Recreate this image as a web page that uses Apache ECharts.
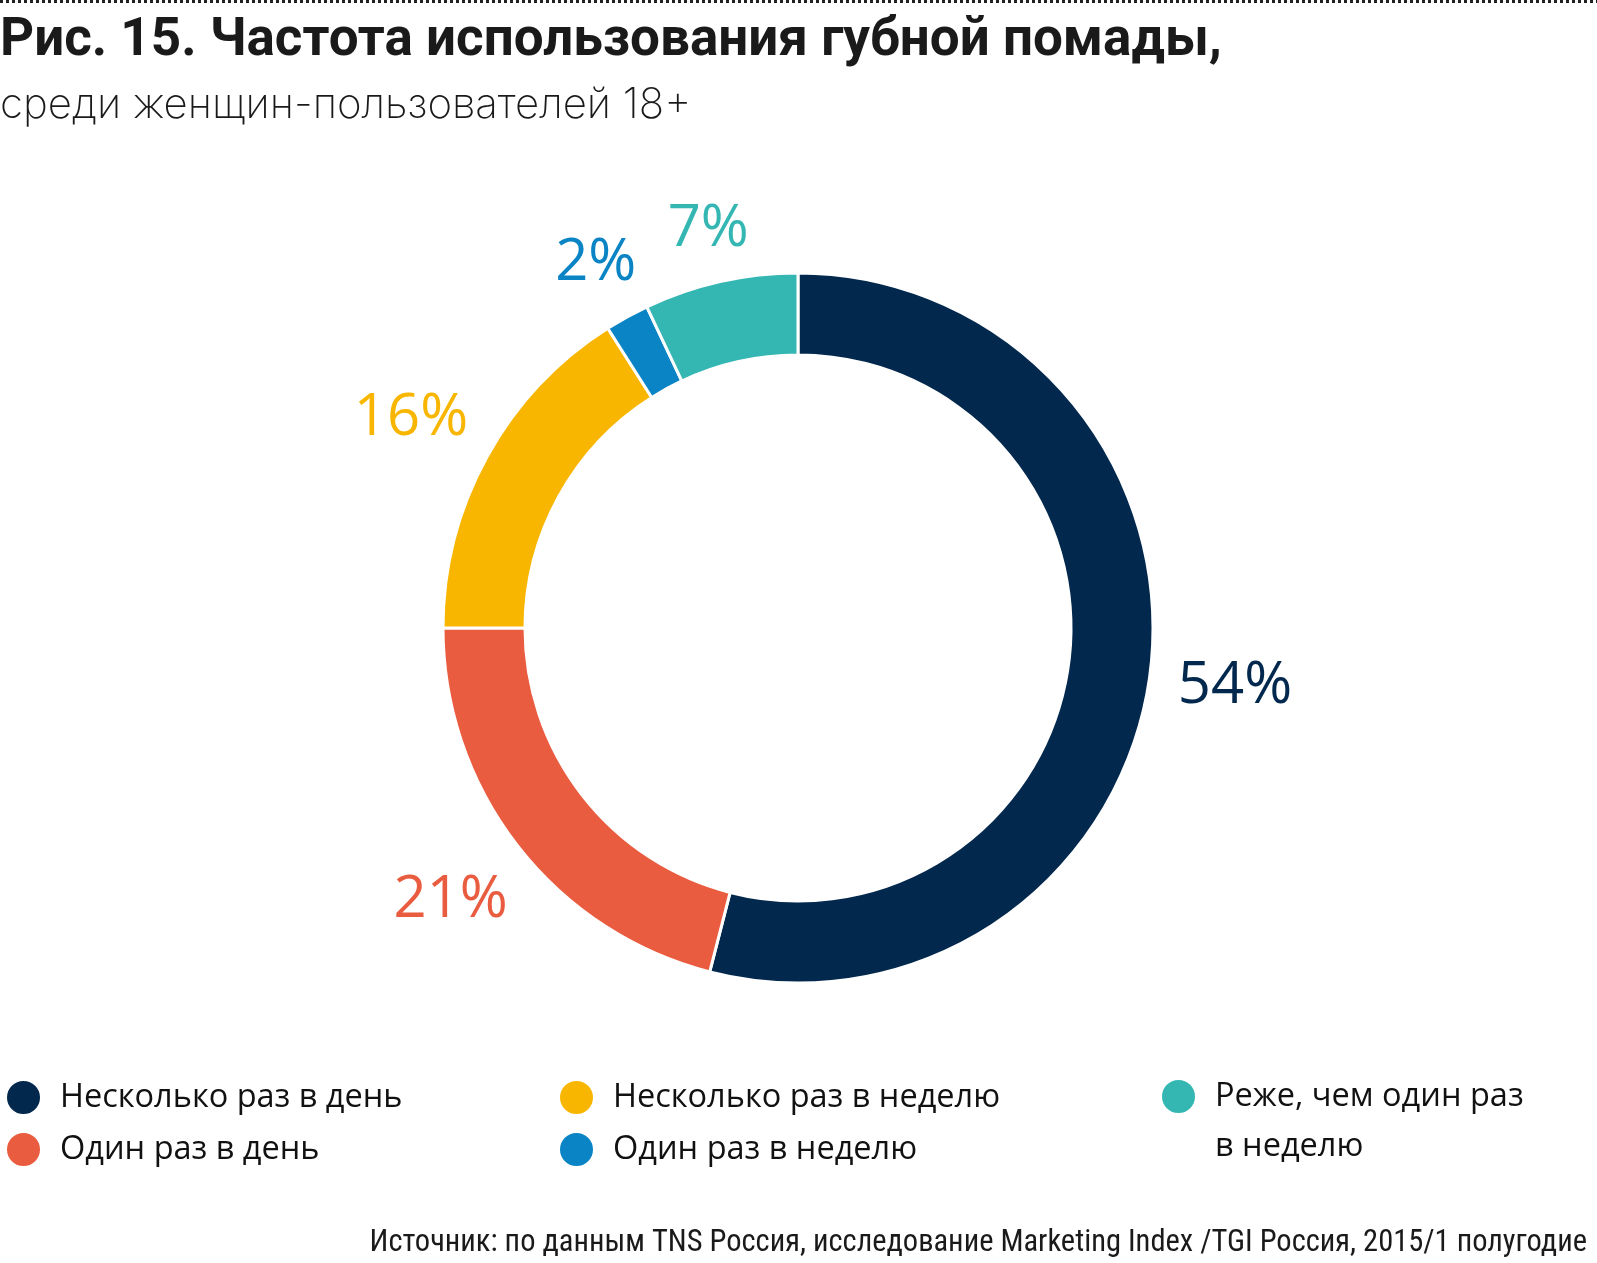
<!DOCTYPE html>
<html>
<head>
<meta charset="utf-8">
<script src="https://cdn.jsdelivr.net/npm/echarts@6/dist/echarts.min.js"></script>
<style>
html,body{margin:0;padding:0;background:#fff;}
#c{width:1597px;height:1263px;}
</style>
</head>
<body>
<div id="c"></div>
<script>
const categories = ['Несколько раз в день', 'Один раз в день', 'Несколько раз в неделю', 'Один раз в неделю', 'Реже, чем один раз в неделю'];
const values = [54, 21, 16, 2, 7];
const colors = ['#03284e', '#ea5c40', '#f8b600', '#0a84c5', '#34b6b3'];
const titleText = 'Рис. 15. Частота использования губной помады,';
const subtitleText = 'среди женщин-пользователей 18+';
const sourceText = 'Источник: по данным TNS Россия, исследование Marketing Index /TGI Россия, 2015/1 полугодие';

const CX = 798, CY = 628, R0 = 273, R1 = 355, GAP = 26, LABEL_FS = 58;

const chart = echarts.init(document.getElementById('c'), null, {renderer: 'canvas'});

const legendText = {fontFamily: 'Open Sans', fontSize: 32.5, color: '#111', padding: [0, 0, 0, 14]};
function mkLegend(names, left, extra) {
  return Object.assign({
    data: names, orient: 'vertical', left: left, top: 1079, padding: 0,
    itemWidth: 35, itemHeight: 35, itemGap: 15, icon: 'circle',
    textStyle: legendText, selectedMode: false
  }, extra || {});
}

chart.setOption({
  animation: false,
  color: colors,
  title: [
    {text: titleText, left: 0, top: 15, padding: 0,
     textStyle: {fontFamily: 'Roboto', fontWeight: 'bold', fontSize: 53, color: '#1a1a1a'}},
    {text: subtitleText, left: 0, top: 84, padding: 0,
     textStyle: {fontFamily: 'Inter', fontWeight: 200, fontSize: 42, color: '#1a1a1a'}},
    {text: sourceText, right: 10, top: 1228, padding: 0,
     textStyle: {fontFamily: 'Liberation Sans Narrow, Roboto Condensed, Roboto', fontWeight: 'normal', fontSize: 30.5, color: '#1a1a1a'}}
  ],
  legend: [
    mkLegend([categories[0], categories[1]], 5),
    mkLegend([categories[2], categories[3]], 558),
    mkLegend([categories[4]], 1160, {
      top: 1079 - 57.5,
      formatter: function (n) { return '\n' + n.replace(' раз в', ' раз\nв'); },
      textStyle: Object.assign({}, legendText, {lineHeight: 50})
    })
  ],
  graphic: [{
    type: 'line', shape: {x1: 0, y1: 1.5, x2: 1597, y2: 1.5},
    style: {stroke: '#222', lineWidth: 3, lineDash: [3, 3]}
  }],
  series: [{
    type: 'pie',
    center: [CX, CY],
    radius: [R0, R1],
    startAngle: 90,
    clockwise: true,
    avoidLabelOverlap: false,
    silent: true,
    itemStyle: {borderColor: '#fff', borderWidth: 3},
    label: {
      show: true, position: 'inside',
      formatter: '{c}%',
      fontFamily: 'Open Sans', fontSize: LABEL_FS, fontWeight: 'normal'
    },
    labelLine: {show: false},
    labelLayout: function (p) {
      const r = p.labelRect;
      const lx = r.x + r.width / 2, ly = r.y + r.height / 2;
      const dx = lx - CX, dy = ly - CY;
      const d = Math.sqrt(dx * dx + dy * dy);
      const ux = dx / d, uy = dy / d;
      const hw = r.width / 2, hh = LABEL_FS * 0.38;
      const t = R1 + GAP + hw * Math.abs(ux) + hh * Math.abs(uy);
      return {x: CX + ux * t, y: CY + uy * t + 3, align: 'center', verticalAlign: 'middle'};
    },
    data: categories.map(function (n, i) {
      return {name: n, value: values[i], itemStyle: {color: colors[i]}, label: {color: colors[i]}};
    })
  }]
});
</script>
</body>
</html>
